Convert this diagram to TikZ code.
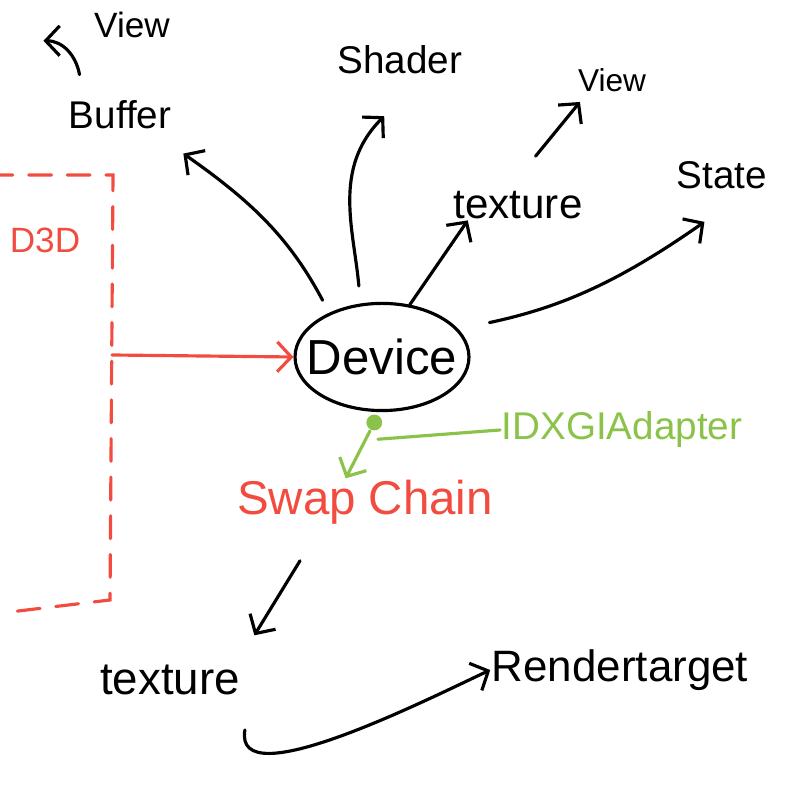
\documentclass[tikz,border=0pt]{standalone}
\usepackage{fontspec}
\setmainfont{Liberation Sans}
\usetikzlibrary{arrows.meta, positioning, shapes.geometric, calc}
\definecolor{cred}{HTML}{F24B3F}
\definecolor{cgreen}{HTML}{8BC34A}
\tikzset{
  every picture/.style={line width=1.8pt, line cap=round},
  word/.style={font=\fontsize{#1}{#1}\selectfont, inner sep=0pt},
  word/.default=22,
  arrow/.style={-{Straight Barb[length=8pt, width=17pt]}, draw=black},
  redarrow/.style={arrow, draw=cred},
  greenline/.style={draw=cgreen},
  frame/.style={draw=cred, dash pattern=on 13pt off 9pt},
}

\begin{document}
\begin{tikzpicture}[x=0.02cm, y=0.02cm]
  \useasboundingbox (0,0) rectangle (810,810);
  % the device and what it makes
  \node[ellipse, draw, minimum width=99pt, minimum height=61pt, inner sep=0pt, word=28] (device) at (382,453) {\makebox[0pt]{Device}};
  \node[word=20] (view1) at (132,785) {View};
  \node[word] (buffer) at (120,695) {Buffer};
  \node[word] (shader) at (400,750) {Shader};
  \node[word=18] (view2) at (612,730) {View};
  \node[word=24] (texup) at (518,605) {texture};
  \node[word] (state) at (722,635) {State};
  \draw[arrow, shorten <=8pt] (device.140) to[out=118, in=-35] ([shift={(6pt,-13pt)}]buffer.south east);
  \draw[arrow] ([shift={(7pt,14pt)}]buffer.north west) to[out=100, in=0] ([shift={(-28pt,-9pt)}]view1.west);
  \draw[arrow, shorten <=10pt] (device.112) to[out=95, in=225] ([shift={(-9pt,-23pt)}]shader.south);
  \draw[arrow] (device.62) -- ([xshift=9pt]texup.south west);
  \draw[arrow] ([shift={(10pt,19pt)}]texup.north) -- ([shift={(2pt,-5pt)}]view2.south west);
  \draw[arrow, shorten <=18pt] (device.20) to[out=12, in=215] ([shift={(-10pt,-18pt)}]state.south);
  % D3D frame
  \node[word=20, text=cred] (d3d) at (45,570) {D3D};
  \draw[frame] (-10,635) -- (113,635) -- (110,210) -- (10,198);
  \coordinate (tap) at (112,455);
  \draw[redarrow] (tap) -- (device.west);
  % swap chain from the adapter
  \node[word=27, text=cred] (swap) at (365,308) {Swap Chain};
  \node[word=22, text=cgreen] (adapter) at (622,380) {IDXGIAdapter};
  \node[circle, fill=cgreen, inner sep=0pt, minimum size=9pt] (dot) at ([yshift=-6pt]device.262) {};
  \coordinate (swaptip) at ([xshift=-11pt]swap.north);
  \coordinate (stem) at ($(dot)!0.3!(swaptip)$);
  \draw[arrow, draw=cgreen] (dot) -- (swaptip);
  \draw[greenline] (adapter.west) -- ([xshift=7pt]stem);
  % back buffer
  \node[word=26] (texlow) at (170,130) {texture};
  \node[word=25] (rt) at (620,140) {Rendertarget};
  \draw[arrow] ([shift={(-37pt,-20pt)}]swap.south) -- ([shift={(48pt,16pt)}]texlow.north);
  \draw[arrow] ([shift={(2pt,-19pt)}]texlow.south east) to[out=-100, in=205, looseness=0.7] (rt.west);
\end{tikzpicture}
\end{document}
